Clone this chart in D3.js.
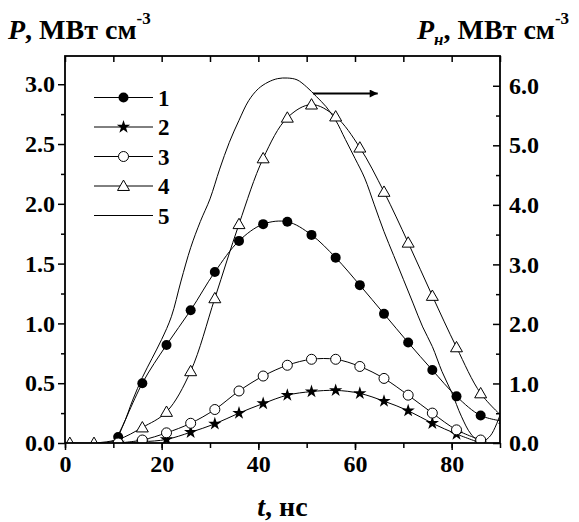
<!DOCTYPE html>
<html>
<head>
<meta charset="utf-8">
<script src="https://d3js.org/d3.v7.min.js"></script>
<style>
  body { margin: 0; background: #fff; }
  svg text { font-family: 'Liberation Serif', 'Times New Roman', serif; font-weight: bold; fill: #000; }
</style>
</head>
<body>
<div id="chart"></div>
<script>
// data
const tMarks = [11, 16, 21, 26, 31, 36, 41, 46, 51, 56, 61, 66, 71, 76, 81, 86, 91]
const series1 = [0.05, 0.50, 0.82, 1.11, 1.43, 1.69, 1.83, 1.85, 1.74, 1.55, 1.32, 1.08, 0.84, 0.61, 0.39, 0.23, 0.18]
const tStar = [11, 16, 21, 26, 31, 36, 41, 46, 51, 56, 61, 66, 71, 76, 81, 86]
const series2 = [0.0, 0.01, 0.03, 0.09, 0.16, 0.25, 0.33, 0.40, 0.43, 0.44, 0.415, 0.35, 0.27, 0.165, 0.075, 0.0]
const series3 = [0.0, 0.025, 0.085, 0.165, 0.28, 0.435, 0.56, 0.65, 0.70, 0.70, 0.64, 0.54, 0.40, 0.25, 0.11, 0.025]
const tTri = [1, 6, 11, 16, 21, 26, 31, 36, 41, 46, 51, 56, 61, 66, 71, 76, 81, 86, 91]
const series4 = [0, 0, 0.03, 0.13, 0.26, 0.60, 1.21, 1.83, 2.38, 2.72, 2.83, 2.73, 2.47, 2.10, 1.675, 1.23, 0.80, 0.415, 0.2]
// curve 5 is read against the right axis (P_н)
const t5 = [0, 8, 10, 12, 14, 16, 18, 20, 22, 24, 26, 28, 30, 32, 34, 36, 38, 40, 42, 44, 46, 48, 50, 52, 54, 56, 58, 60, 62, 64, 66, 68, 70, 72, 74, 76, 78, 80, 82, 84, 86, 88, 90]
const series5 = [0, 0, 0.04, 0.3, 0.72, 1.1, 1.42, 1.74, 2.12, 2.72, 3.28, 3.72, 4.1, 4.6, 5.05, 5.42, 5.75, 5.95, 6.06, 6.12, 6.13, 6.1, 5.98, 5.82, 5.65, 5.42, 5.1, 4.78, 4.45, 4.0, 3.55, 3.15, 2.75, 2.35, 1.95, 1.62, 1.2, 0.85, 0.45, 0.15, 0.02, 0.12, 0.47]

const xTicks = [0, 20, 40, 60, 80]
const xMinor = [0, 10, 20, 30, 40, 50, 60, 70, 80, 90]
const yLeftTicks = [0, 0.5, 1.0, 1.5, 2.0, 2.5, 3.0]
const yLeftMinor = [0.25, 0.75, 1.25, 1.75, 2.25, 2.75]
const yRightTicks = [0, 1, 2, 3, 4, 5, 6]
const yRightMinor = [0.5, 1.5, 2.5, 3.5, 4.5, 5.5]
const legendNames = ['1', '2', '3', '4', '5']
const arrowT = [51.3, 64.7]
const arrowV = 5.87

const W = 579, H = 522
const m = {left: 65, right: 79, top: 56, bottom: 79}
const iw = W - m.left - m.right, ih = H - m.top - m.bottom

const svg = d3.select('#chart').append('svg').attr('width', W).attr('height', H)

const x = d3.scaleLinear().domain([0, 90]).range([m.left, m.left + iw])
const yL = d3.scaleLinear().domain([0, 3.236]).range([m.top + ih, m.top])
const yR = d3.scaleLinear().domain([0, 6.5]).range([m.top + ih, m.top])

svg.append('clipPath').attr('id', 'clip')
  .append('rect').attr('x', m.left).attr('y', m.top).attr('width', iw).attr('height', ih)

const plot = svg.append('g').attr('clip-path', 'url(#clip)')

const line = (xs, ys, sy) => d3.line()
  .x((d, i) => x(xs[i])).y(d => sy(d))
  .curve(d3.curveCatmullRom.alpha(0.5))(ys)

const lineStyle = sel => sel.attr('fill', 'none').attr('stroke', '#000').attr('stroke-width', 1)

plot.append('path').attr('d', line(t5, series5, yR)).call(lineStyle)
plot.append('path').attr('d', line(tMarks, series1, yL)).call(lineStyle)
plot.append('path').attr('d', line(tStar, series2, yL)).call(lineStyle)
plot.append('path').attr('d', line(tStar, series3, yL)).call(lineStyle)
plot.append('path').attr('d', line(tTri, series4, yL)).call(lineStyle)

const star = d3.symbol().type(d3.symbolStar).size(55)
const tri = d3.symbol().type(d3.symbolTriangle).size(62)

function markers(kind, xs, ys) {
  const g = plot.append('g')
  ys.forEach((v, i) => drawMarker(g, kind, x(xs[i]), yL(v)))
}
function drawMarker(g, kind, cx, cy) {
  if (kind == 'dot') g.append('circle').attr('cx', cx).attr('cy', cy).attr('r', 5).attr('fill', '#000')
  if (kind == 'ring') g.append('circle').attr('cx', cx).attr('cy', cy).attr('r', 5)
    .attr('fill', '#fff').attr('stroke', '#000').attr('stroke-width', 1)
  if (kind == 'star') g.append('path').attr('d', star()).attr('transform', `translate(${cx},${cy})`).attr('fill', '#000')
  if (kind == 'tri') g.append('path').attr('d', tri()).attr('transform', `translate(${cx},${cy + 1})`)
    .attr('fill', '#fff').attr('stroke', '#000').attr('stroke-width', 1)
}
markers('tri', tTri, series4)
markers('dot', tMarks, series1)
markers('star', tStar, series2)
markers('ring', tStar, series3)

// axes
const bottom = m.top + ih, right = m.left + iw
svg.append('g').attr('transform', `translate(0,${bottom})`)
  .call(d3.axisBottom(x).tickValues(xMinor).tickSize(5).tickFormat(''))
svg.append('g').attr('transform', `translate(0,${bottom})`)
  .call(d3.axisBottom(x).tickValues(xTicks).tickSize(7).tickPadding(5).tickFormat(d3.format('d')))
svg.append('g').attr('transform', `translate(0,${m.top})`)
  .call(d3.axisTop(x).tickValues(xMinor).tickSize(-6).tickFormat(''))
svg.append('g').attr('transform', `translate(${m.left},0)`)
  .call(d3.axisLeft(yL).tickValues(yLeftMinor).tickSize(4).tickFormat(''))
svg.append('g').attr('transform', `translate(${m.left},0)`)
  .call(d3.axisLeft(yL).tickValues(yLeftTicks).tickSize(7).tickPadding(3).tickFormat(d3.format('.1f')))
svg.append('g').attr('transform', `translate(${right},0)`)
  .call(d3.axisRight(yR).tickValues(yRightMinor).tickSize(-4).tickFormat(''))
svg.append('g').attr('transform', `translate(${right},0)`)
  .call(d3.axisRight(yR).tickValues(yRightTicks).tickSize(-7).tickPadding(9).tickFormat(d3.format('.1f')))

svg.selectAll('.domain').remove()
svg.selectAll('.tick line').attr('stroke', '#000').attr('stroke-width', 1.5)
svg.selectAll('.tick text').attr('font-size', 24).attr('font-family', null)

svg.append('rect').attr('x', m.left).attr('y', m.top).attr('width', iw).attr('height', ih)
  .attr('fill', 'none').attr('stroke', '#000').attr('stroke-width', 1.8)

// arrow pointing curve 5 to right axis
svg.append('defs').append('marker').attr('id', 'arr')
  .attr('viewBox', '0 0 10 10').attr('refX', 10).attr('refY', 5)
  .attr('markerWidth', 5).attr('markerHeight', 4).attr('orient', 'auto').attr('markerUnits', 'strokeWidth')
  .append('path').attr('d', 'M0,0L10,5L0,10z').attr('fill', '#000')
svg.append('line').attr('x1', x(arrowT[0])).attr('x2', x(arrowT[1]))
  .attr('y1', yR(arrowV)).attr('y2', yR(arrowV))
  .attr('stroke', '#000').attr('stroke-width', 2).attr('marker-end', 'url(#arr)')

// legend
const lg = svg.append('g')
legendNames.forEach((name, i) => {
  const ly = 97.5 + i * 29.5
  lg.append('line').attr('x1', 94).attr('x2', 153).attr('y1', ly).attr('y2', ly)
    .attr('stroke', '#000').attr('stroke-width', 1)
  const kinds = ['dot', 'star', 'ring', 'tri', null]
  if (kinds[i]) drawMarker(lg, kinds[i], 123.5, ly)
  lg.append('text').attr('x', 158).attr('y', ly + 8).attr('font-size', 23).text(name)
})

// axis titles
const tl = svg.append('text').attr('x', 8).attr('y', 39).attr('font-size', 28)
tl.append('tspan').attr('font-style', 'italic').text('P')
tl.append('tspan').text(', МВт см')
tl.append('tspan').attr('font-size', 17).attr('dy', -15).text('-3')

const tr = svg.append('text').attr('x', 417).attr('y', 39).attr('font-size', 28)
tr.append('tspan').attr('font-style', 'italic').text('P')
tr.append('tspan').attr('font-style', 'italic').attr('font-size', 17).attr('dy', 6).text('н')
tr.append('tspan').attr('dy', -6).text(', МВт см')
tr.append('tspan').attr('font-size', 17).attr('dy', -15).text('-3')

const tb = svg.append('text').attr('x', (m.left + right) / 2).attr('y', 516)
  .attr('text-anchor', 'middle').attr('font-size', 28)
tb.append('tspan').attr('font-style', 'italic').text('t')
tb.append('tspan').text(', нс')
</script>
</body>
</html>
